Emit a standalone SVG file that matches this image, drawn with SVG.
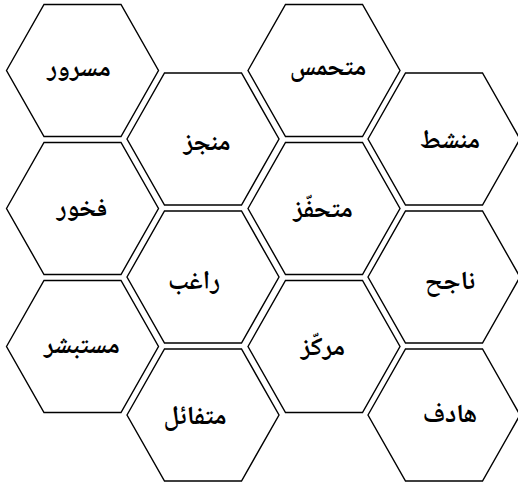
<svg xmlns="http://www.w3.org/2000/svg" xmlns:xlink="http://www.w3.org/1999/xlink" width="518" height="486" viewBox="0 0 518 486">
<style>
.hex{fill:#fff;stroke:#000;stroke-width:1.4;stroke-linejoin:miter}
.lbl{font-family:"Noto Naskh Arabic","DejaVu Sans",sans-serif;font-weight:bold;font-size:26px;fill:#000;text-anchor:middle}
</style>
<defs>
<polygon id="h" points="-76,0 -38.5,-66 38.5,-66 76,0 38.5,66 -38.5,66"/>
</defs>
<rect width="518" height="486" fill="#fff"/>
<g id="n1"><use xlink:href="#h" class="hex" transform="translate(82.5,70.5)"/><text class="lbl" x="79" y="76">مسرور</text></g>
<g id="n2"><use xlink:href="#h" class="hex" transform="translate(82.5,208.5)"/><text class="lbl" x="82" y="216">فخور</text></g>
<g id="n3"><use xlink:href="#h" class="hex" transform="translate(82.5,346.5)"/><text class="lbl" x="82" y="353">مستبشر</text></g>
<g id="n4"><use xlink:href="#h" class="hex" transform="translate(203,139)"/><text class="lbl" x="207" y="150">منجز</text></g>
<g id="n5"><use xlink:href="#h" class="hex" transform="translate(203,277)"/><text class="lbl" x="194" y="289">راغب</text></g>
<g id="n6"><use xlink:href="#h" class="hex" transform="translate(203,415)"/><text class="lbl" x="195" y="424">متفائل</text></g>
<g id="n7"><use xlink:href="#h" class="hex" transform="translate(324,70.5)"/><text class="lbl" x="328" y="75">متحمس</text></g>
<g id="n8"><use xlink:href="#h" class="hex" transform="translate(324,208.5)"/><text class="lbl" x="323" y="217">متحفّز</text></g>
<g id="n9"><use xlink:href="#h" class="hex" transform="translate(324,346.5)"/><text class="lbl" x="323" y="355">مركّز</text></g>
<g id="n10"><use xlink:href="#h" class="hex" transform="translate(444,139)"/><text class="lbl" x="450" y="148">منشط</text></g>
<g id="n11"><use xlink:href="#h" class="hex" transform="translate(444,277)"/><text class="lbl" x="450" y="289">ناجح</text></g>
<g id="n12"><use xlink:href="#h" class="hex" transform="translate(444,415)"/><text class="lbl" x="450" y="422">هادف</text></g>
<g id="connectors"></g>
</svg>
